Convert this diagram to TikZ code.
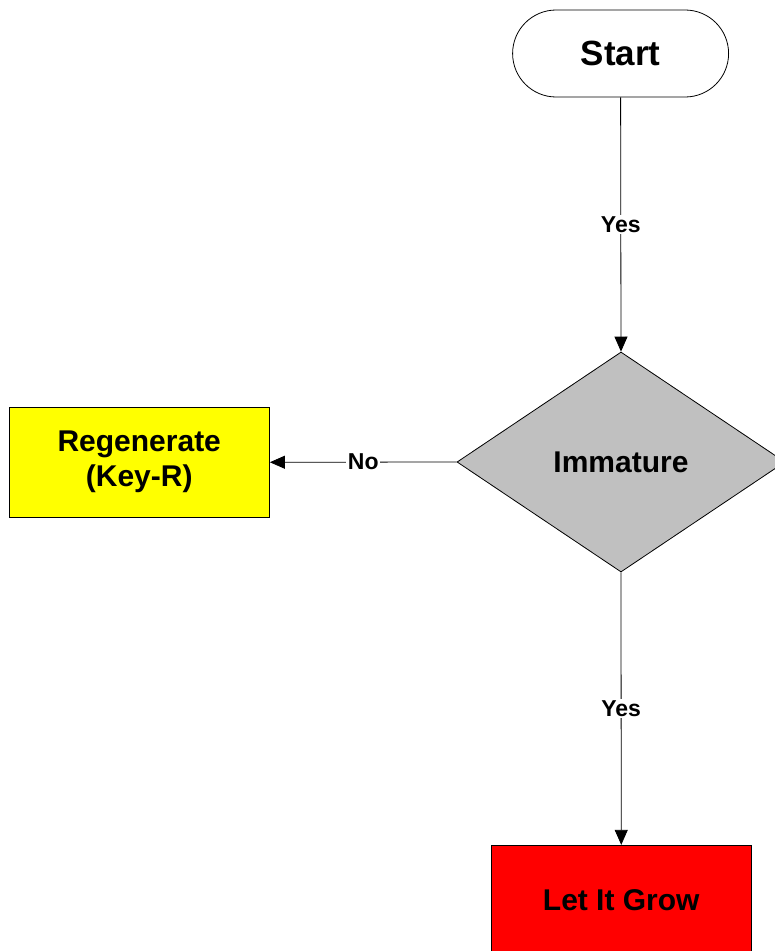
\documentclass[tikz,border=0pt]{standalone}
\usepackage{fontspec}
\setmainfont{Liberation Sans}
\usetikzlibrary{arrows.meta,shapes.geometric}
\definecolor{dgray}{HTML}{C0C0C0}
\definecolor{dyellow}{HTML}{FFFF00}
\definecolor{dred}{HTML}{FF0000}
\tikzset{
  x=1pt,y=-1pt,
  every node/.style={font=\bfseries},
  boxfont/.style={font=\fontsize{30}{35}\selectfont\bfseries},
  terminal/.style={draw=black,line width=0.8pt,rounded corners=43.5pt,minimum width=216pt,minimum height=87pt,inner sep=0pt,font=\fontsize{35}{40}\selectfont\bfseries},
  decision/.style={draw=black,line width=0.8pt,shape=diamond,fill=dgray,minimum width=328pt,minimum height=220pt,inner sep=0pt,boxfont},
  procbox/.style={draw=black,line width=0.8pt,rectangle,minimum width=260.5pt,minimum height=109.5pt,inner sep=0pt,align=center,boxfont},
  conn/.style={draw=black,line width=0.8pt,-{Triangle[length=15pt,width=13pt]}},
  lbl/.style={fill=white,inner sep=1.5pt,font=\fontsize{23}{26}\selectfont\bfseries}
}
\begin{document}
\begin{tikzpicture}
\clip (0,0) rectangle (775,951);
\fill[white] (0,0) rectangle (775,951);
\node[terminal] (start) at (620.6,53.5) {Start};
\node[decision] (imm) at (621,462) {Immature};
\node[procbox,fill=dyellow] (regen) at (139.25,462.25) {Regenerate\\(Key-R)};
\node[procbox,fill=dred] (grow) at (621.25,900) {Let It Grow};
\draw[conn] (start.south) -- node[lbl] {Yes} (imm.north);
\draw[conn] (imm.west) -- node[lbl] {No} (regen.east);
\draw[conn] (imm.south) -- node[lbl] {Yes} (grow.north);
\end{tikzpicture}
\end{document}
